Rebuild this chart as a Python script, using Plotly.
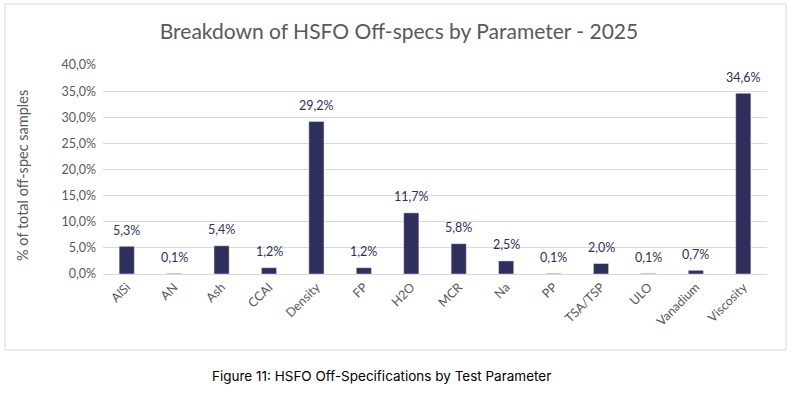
import plotly.graph_objects as go

categories = ["AlSi", "AN", "Ash", "CCAI", "Density", "FP", "H2O", "MCR", "Na", "PP",
              "TSA/TSP", "ULO", "Vanadium", "Viscosity"]
values = [5.3, 0.1, 5.4, 1.2, 29.2, 1.2, 11.7, 5.8, 2.5, 0.1, 2.0, 0.1, 0.7, 34.6]
tick_vals = [0, 5, 10, 15, 20, 25, 30, 35, 40]
tick_text = ["0,0%", "5,0%", "10,0%", "15,0%", "20,0%", "25,0%", "30,0%", "35,0%", "40,0%"]

W, H = 798, 393
L, R, T, B = 103, 31, 65, 119
pw, ph = W - L - R, H - T - B

def px(x):
    return (x - L) / pw

def py(y):
    return (H - B - y) / ph

bar_color = "#2E2F5C"
fig = go.Figure(go.Bar(
    x=categories, y=values, marker_color=bar_color, width=0.32,
))

for c, v in zip(categories, values):
    fig.add_annotation(x=c, y=v, text=f"{v:.1f}%".replace(".", ","),
                       showarrow=False, yanchor="middle", yshift=16,
                       font=dict(family="Lato", size=12.5, color="#2E2F5C"))

fig.update_layout(
    width=W, height=H, margin=dict(l=L, r=R, t=T, b=B, autoexpand=False),
    paper_bgcolor="white", plot_bgcolor="white",
    showlegend=False,
    font=dict(family="Lato", color="#595959"),
    title=dict(text="Breakdown of HSFO Off-specs by Parameter - 2025",
               x=0.5, xref="container", xanchor="center", y=1 - 32 / H, yanchor="middle",
               font=dict(family="Lato", size=21, color="#595959")),
    xaxis=dict(tickangle=-45, tickfont=dict(size=12.5, color="#595959"),
               showline=True, linecolor="#D9D9D9", linewidth=1, ticks="",
               automargin=False),
    yaxis=dict(range=[0, 40], tickvals=tick_vals, ticktext=tick_text,
               tickfont=dict(size=12.5, color="#595959"), ticklabelstandoff=6,
               showgrid=True, gridcolor="#D9D9D9", gridwidth=1, zeroline=False,
               automargin=False),
    bargap=0.68,
)

fig.add_annotation(text="% of total off-spec samples", textangle=-90,
                   xref="paper", yref="paper", x=px(22), y=py(176),
                   xanchor="center", yanchor="middle", showarrow=False,
                   font=dict(family="Lato", size=14.5, color="#595959"))

fig.add_shape(type="rect", xref="paper", yref="paper",
              x0=px(5), x1=px(786), y0=py(350), y1=py(4),
              line=dict(color="#D9D9D9", width=1), fillcolor="rgba(0,0,0,0)", layer="below")

fig.add_annotation(text="Figure 11: HSFO Off-Specifications by Test Parameter",
                   xref="paper", yref="paper", x=px(381), y=py(376),
                   xanchor="center", yanchor="middle", showarrow=False,
                   font=dict(family="Inter", size=13.5, color="#000000"))

fig.write_html("out.html", config={"displayModeBar": False},
               post_script="document.body.style.margin='0';document.body.style.overflow='hidden';")
